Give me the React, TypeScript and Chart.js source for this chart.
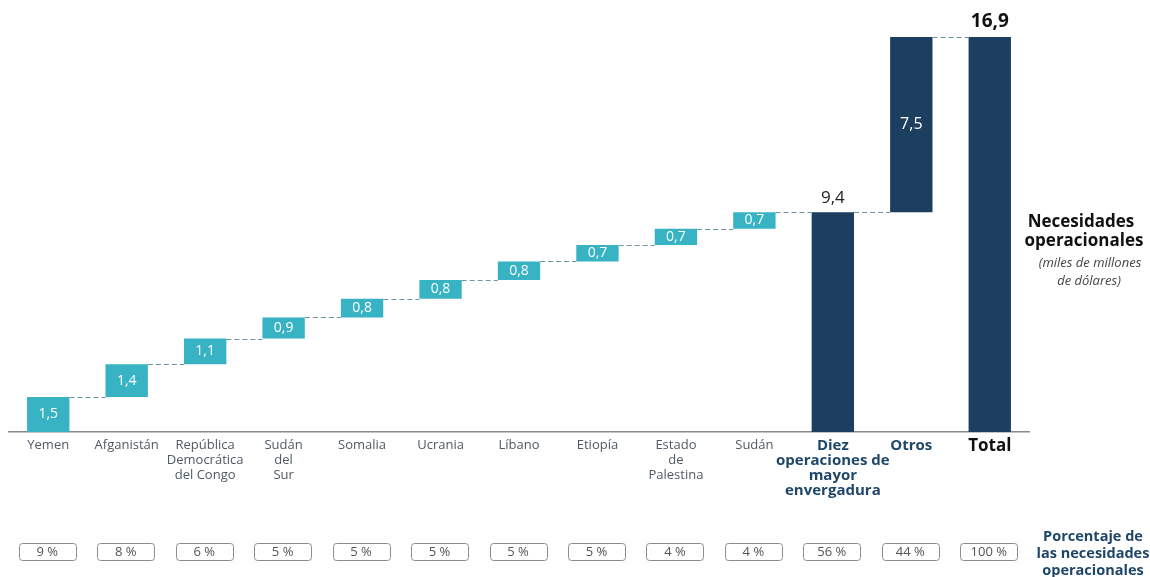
import React, { useEffect, useRef } from "react";
import { Chart, registerables } from "chart.js";

Chart.register(...registerables);

const categories: (string | string[])[] = [
  "Yemen",
  "Afganistán",
  ["República", "Democrática", "del Congo"],
  ["Sudán", "del", "Sur"],
  "Somalia",
  "Ucrania",
  "Líbano",
  "Etiopía",
  ["Estado", "de", "Palestina"],
  "Sudán",
  ["Diez", "operaciones de", "mayor", "envergadura"],
  "Otros",
  "Total",
];

const countryNeeds = [1.5, 1.4, 1.1, 0.9, 0.8, 0.8, 0.8, 0.7, 0.7, 0.7];
const topTenTotal = 9.4;
const otherNeeds = 7.5;
const grandTotal = 16.9;

const percentages = ["9 %", "8 %", "6 %", "5 %", "5 %", "5 %", "5 %", "5 %", "4 %", "4 %", "56 %", "44 %", "100 %"];

const TEAL = "#37b3c4";
const NAVY = "#1c3e5f";
const FONT = "'Open Sans', 'Noto Sans', sans-serif";

const fmt = (v: number) => v.toFixed(1).replace(".", ",");

export default function App() {
  const ref = useRef<HTMLCanvasElement | null>(null);

  useEffect(() => {
    if (!ref.current) return;
    const ranges: [number, number][] = [];
    let cum = 0;
    countryNeeds.forEach((v) => {
      const start = cum;
      cum = Math.round((cum + v) * 10) / 10;
      ranges.push([start, cum]);
    });
    ranges.push([0, topTenTotal]);
    ranges.push([topTenTotal, Math.round((topTenTotal + otherNeeds) * 10) / 10]);
    ranges.push([0, grandTotal]);
    const labelValues = [...countryNeeds, topTenTotal, otherNeeds, grandTotal];
    const colors = ranges.map((_, i) => (i < 10 ? TEAL : NAVY));

    const overlay = {
      id: "overlay",
      afterDatasetsDraw(chart: any) {
        const ctx = chart.ctx;
        const meta = chart.getDatasetMeta(0);
        const y = chart.scales.y;
        ctx.save();
        // connectors
        ctx.strokeStyle = "#6f95a1";
        ctx.lineWidth = 1;
        ctx.setLineDash([5, 3]);
        for (let i = 0; i < ranges.length - 1; i++) {
          const a = meta.data[i];
          const b = meta.data[i + 1];
          const py = Math.round(y.getPixelForValue(ranges[i][1])) + 0.5;
          ctx.beginPath();
          ctx.moveTo(a.x + a.width / 2, py);
          ctx.lineTo(b.x - b.width / 2, py);
          ctx.stroke();
        }
        ctx.setLineDash([]);
        // value labels
        ctx.textAlign = "center";
        ctx.textBaseline = "middle";
        labelValues.forEach((v, i) => {
          const el = meta.data[i];
          const top = y.getPixelForValue(ranges[i][1]);
          const bot = y.getPixelForValue(ranges[i][0]);
          if (i < 10) {
            ctx.font = `14px ${FONT}`;
            ctx.fillStyle = "#ffffff";
            ctx.fillText(fmt(v), el.x, (top + bot) / 2);
          } else if (i === 10) {
            ctx.font = `17px ${FONT}`;
            ctx.fillStyle = "#222222";
            ctx.fillText(fmt(v), el.x, top - 14);
          } else if (i === 11) {
            ctx.font = `16px ${FONT}`;
            ctx.fillStyle = "#ffffff";
            ctx.fillText(fmt(v), el.x, (top + bot) / 2);
          } else {
            ctx.font = `bold 19px ${FONT}`;
            ctx.fillStyle = "#111111";
            ctx.fillText(fmt(v), el.x, top - 15);
          }
        });
        ctx.restore();
      },
      afterDraw(chart: any) {
        const ctx = chart.ctx;
        const x = chart.scales.x;
        ctx.save();
        // percentage boxes
        percentages.forEach((p, i) => {
          const cx = x.getPixelForValue(i) - 1;
          const w = 57;
          const h = 17;
          const left = Math.round(cx - w / 2) + 0.5;
          const top = 543.5;
          ctx.beginPath();
          ctx.strokeStyle = "#8c8c8c";
          ctx.lineWidth = 1;
          (ctx as any).roundRect(left, top, w, h, 3);
          ctx.stroke();
          ctx.font = `13px ${FONT}`;
          ctx.fillStyle = "#555555";
          ctx.textAlign = "center";
          ctx.textBaseline = "middle";
          ctx.fillText(p, cx, top + h / 2);
        });
        // right side texts
        ctx.textAlign = "center";
        ctx.textBaseline = "middle";
        ctx.fillStyle = "#111111";
        ctx.font = `bold 17px ${FONT}`;
        ctx.fillText("Necesidades", 1081, 222);
        ctx.fillText("operacionales", 1084, 241);
        ctx.fillStyle = "#444444";
        ctx.font = `italic 13px ${FONT}`;
        ctx.fillText("(miles de millones", 1090, 263);
        ctx.fillText("de dólares)", 1089, 281);
        ctx.fillStyle = "#1e4668";
        ctx.font = `bold 14.5px ${FONT}`;
        ctx.fillText("Porcentaje de", 1093, 537);
        ctx.fillText("las necesidades", 1093, 554);
        ctx.fillText("operacionales", 1093, 571);
        ctx.restore();
      },
    };

    const chart = new Chart(ref.current, {
      type: "bar",
      data: {
        labels: categories as any,
        datasets: [
          {
            data: ranges as any,
            backgroundColor: colors,
            borderWidth: 0,
            categoryPercentage: 1,
            barPercentage: 0.54,
          },
        ],
      },
      options: {
        responsive: false,
        animation: false,
        layout: { padding: { top: 37, left: 9, right: 121, bottom: 0 } },
        plugins: { legend: { display: false }, tooltip: { enabled: false } },
        scales: {
          y: { display: false, min: 0, max: grandTotal },
          x: {
            afterFit: (s: any) => {
              s.height = 145;
            },
            grid: { display: false, drawTicks: false },
            border: { display: true, color: "#8a8a8a", width: 1.5 },
            ticks: {
              autoSkip: false,
              maxRotation: 0,
              minRotation: 0,
              padding: 6,
              color: (c: any) => (c.index === 12 ? "#111111" : c.index >= 10 ? "#1e4668" : "#4e5a66"),
              font: (c: any) =>
                c.index === 12
                  ? { family: FONT, size: 17, weight: "bold", lineHeight: 1.0 }
                  : c.index >= 10
                  ? { family: FONT, size: 15, weight: "bold", lineHeight: 1.0 }
                  : { family: FONT, size: 13, lineHeight: 1.15 },
            },
          },
        },
      },
      plugins: [overlay],
    });
    return () => chart.destroy();
  }, []);

  return (
    <canvas
      ref={ref}
      width={1150}
      height={577}
      style={{ position: "fixed", left: 0, top: 0, width: 1150, height: 577, background: "#fff" }}
    />
  );
}
